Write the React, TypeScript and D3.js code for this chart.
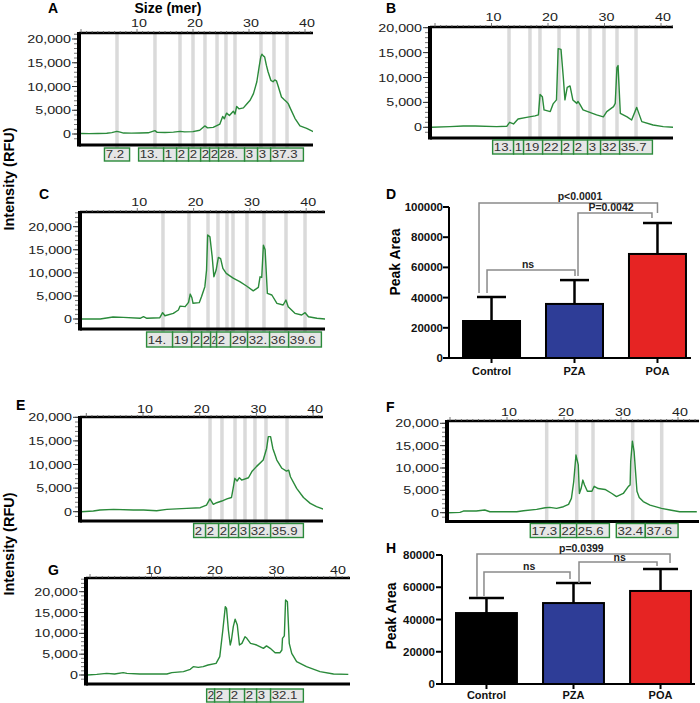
import React from 'react';
import * as d3 from 'd3';

// ---------------- data ----------------
const sizeTicks = [10, 20, 30, 40];
const rfuTicks = [0, 5000, 10000, 15000, 20000];
const rfuTickLabels = ['0', '5,000', '10,000', '15,000', '20,000'];

type Pt = [number, number];

// trace A (size in mer, intensity in RFU)
const traceA: Pt[] = [[0,100],[1.5,80],[3,120],[4.6,150],[5.5,300],[6.4,550],[7.0,400],[7.6,200],[9,180],[10.5,220],[12,250],[13.2,700],[13.6,350],[15,330],[16.5,400],[17.7,550],[18.5,450],[20,500],[21.2,800],[22.1,1700],[22.6,1300],[23.6,1400],[24.8,2100],[25.3,3700],[25.6,3200],[26.0,4400],[26.5,3900],[27.2,4800],[27.5,4200],[27.8,5800],[28.2,5300],[29.0,5500],[29.6,6300],[30.2,7100],[30.8,8500],[31.4,11000],[31.8,14100],[32.1,16200],[32.3,16800],[32.6,16400],[32.8,16200],[33.1,14500],[33.4,13100],[33.9,11300],[34.3,11000],[34.6,11400],[34.9,11200],[35.2,10100],[35.8,7800],[36.3,7200],[36.7,6800],[37.0,6400],[37.3,5600],[38.2,3300],[39.1,1700],[40.3,1200],[41.5,500]];
const traceB: Pt[] = [[-0.6,0],[2.65,130],[5.0,270],[7.1,270],[10.9,130],[12.7,200],[13.2,1000],[13.9,670],[14.7,1670],[16.2,2000],[17.7,2300],[18.3,2500],[18.6,6600],[19.0,6150],[19.3,3500],[20.4,3150],[20.9,4700],[21.5,5500],[21.8,15800],[22.3,15650],[22.7,10150],[23.0,5500],[23.4,8000],[23.9,8300],[24.4,5500],[25.1,4800],[25.3,5200],[25.6,4700],[26.2,3500],[28.6,2500],[29.8,2100],[30.4,3150],[31.6,4150],[31.9,4800],[32.2,12000],[32.4,12400],[32.8,2800],[34.0,2100],[34.8,1470],[35.7,4000],[36.6,1140],[38.6,470],[40.4,130],[42.2,0]];
const traceC: Pt[] = [[0,0],[3.4,0],[5.7,430],[7.5,350],[10.5,150],[11.1,500],[11.7,150],[14.0,280],[14.5,1370],[14.9,700],[16.4,1230],[17.3,1950],[17.6,2800],[18.5,2670],[19.1,3600],[19.4,5400],[19.7,4600],[19.9,3400],[21.0,3540],[21.4,4840],[22.0,7000],[22.3,10600],[22.5,18200],[22.9,17800],[23.3,13500],[23.6,9150],[24.0,10600],[24.4,13350],[24.8,13100],[25.2,10970],[25.8,9900],[26.5,9300],[27.1,8800],[28.2,8100],[29.4,7150],[30.6,6100],[31.5,6860],[31.8,9150],[32.1,9000],[32.4,16000],[32.7,15000],[33.1,5560],[33.9,5200],[34.8,3400],[35.9,3030],[36.4,4100],[36.8,2670],[38.0,1230],[39.2,870],[39.8,1370],[40.4,500],[41.9,150],[43.4,0]];
const traceE: Pt[] = [[-0.9,0],[1.24,140],[2.4,350],[4.8,500],[8.3,350],[10.1,350],[12.4,200],[14.2,500],[17.7,700],[20.1,850],[21.2,1400],[21.8,2700],[22.4,1550],[23.0,1900],[23.9,2260],[24.8,2700],[25.6,3000],[25.9,4950],[26.2,7070],[26.6,6500],[27.0,7200],[27.4,6700],[28.6,7200],[29.2,8500],[30.0,9550],[31.2,10950],[31.8,13400],[32.1,15900],[32.5,15900],[32.9,13400],[33.3,12000],[33.6,10950],[34.5,9200],[35.3,8600],[35.7,8800],[36.0,7400],[37.1,4950],[38.3,3000],[39.5,1770],[40.6,1060],[41.8,570]];
const traceF: Pt[] = [[-0.3,0],[1.75,70],[2.35,370],[4.6,370],[6.1,600],[7.0,220],[11.7,220],[12.9,450],[15.2,750],[16.7,1100],[17.5,1200],[18.7,970],[19.9,1340],[20.8,1870],[21.3,3200],[21.7,6900],[22.1,12900],[22.5,10700],[22.7,4300],[23.0,5400],[23.3,7300],[23.6,6200],[24.1,4800],[24.9,4800],[25.3,5900],[26.0,5400],[27.2,5200],[28.4,4300],[29.2,3600],[30.4,4300],[31.3,5900],[31.6,6200],[31.7,11400],[32.0,16000],[32.3,13600],[32.8,4800],[33.2,3400],[33.9,2500],[35.1,1700],[37.1,970],[38.6,600],[40.3,220],[43.3,220]];
const traceG: Pt[] = [[-0.43,0],[1.1,160],[2.7,400],[4.0,240],[5.4,560],[6.0,400],[8.1,240],[12.5,240],[13.3,560],[15.2,800],[16.3,1360],[16.8,2000],[17.6,1840],[18.4,2000],[19.2,2400],[20.5,2800],[21.1,4400],[21.6,10800],[22.0,16400],[22.2,16000],[22.5,10800],[22.8,7200],[23.0,8400],[23.3,11600],[23.6,13400],[23.95,12000],[24.3,7200],[24.7,7600],[25.2,9200],[25.5,8800],[26.1,7600],[27.1,7200],[28.2,6400],[28.7,7000],[29.3,6400],[30.1,5360],[30.9,5360],[31.2,6000],[31.3,8800],[31.6,9400],[31.8,18000],[32.1,17600],[32.4,7600],[32.8,5200],[33.6,3200],[35.2,2000],[37.4,800],[39.6,240],[42.0,160]];

// called peaks (marker size in mer) and their labels
const markersA = [6.43, 13.21, 17.68, 20.0, 22.14, 24.29, 25.89, 27.5, 32.14, 34.46, 36.79];
const labelsA = ['7.2', '13.1', '18.2', '20.4', '22.3', '24.6', '26.3', '28.0', '32.5', '34.7', '37.3'];
const markersB = [13.1, 16.81, 18.58, 21.95, 25.31, 27.43, 29.91, 32.21, 35.58];
const labelsB = ['13.1', '16.8', '19.0', '22.2', '25.3', '27.4', '30.0', '32.3', '35.7'];
const markersC = [14.56, 19.18, 22.56, 24.33, 25.93, 27.0, 29.48, 32.5, 36.41, 39.79];
const labelsC = ['14.6', '19.3', '22.4', '24.2', '25.7', '26.9', '29.4', '32.4', '36.3', '39.6'];
const markersE = [21.82, 23.93, 26.23, 27.99, 29.75, 31.69, 35.4];
const labelsE = ['22.0', '24.1', '26.3', '28.1', '30.0', '32.2', '35.9'];
const markersF = [16.96, 22.23, 25.09, 32.05, 37.14];
const labelsF = ['17.3', '22.4', '25.6', '32.4', '37.6'];
const markersG = [21.63, 22.93, 25.37, 27.8, 29.76, 32.03];
const labelsG = ['22.0', '23.3', '25.6', '27.9', '30.1', '32.1'];

// bar charts
const groups = ['Control', 'PZA', 'POA'];
const meanD = [24500, 35800, 68900];
const sdD = [15900, 15800, 20500];
const ticksD = [0, 20000, 40000, 60000, 80000, 100000];
const meanH = [44000, 50200, 57700];
const sdH = [9300, 12400, 13600];
const ticksH = [0, 20000, 40000, 60000, 80000];

// significance brackets: group a -> group b, leg ends / top in data units
const bracketsD = [
  { a: 0, b: 2, yA: 43000, yTop: 102600, yB: 96000, dxA: -12.5, dxB: 0, text: 'p<0.0001', t: 1.066, ty: 104600 },
  { a: 1, b: 2, yA: 54300, yTop: 96000, yB: 92700, dxA: 3.5, dxB: -5.5, text: 'P=0.0042', t: 1.44, ty: 97300 },
  { a: 0, b: 1, yA: 43000, yTop: 58300, yB: 54300, dxA: -4.5, dxB: 0.5, text: 'ns', t: 0.44, ty: 59600 },
];
const bracketsH = [
  { a: 0, b: 2, yA: 54000, yTop: 80600, yB: 75000, dxA: -9.5, dxB: 9.5, text: 'p=0.0399', t: 1.09, ty: 81900 },
  { a: 0, b: 1, yA: 54600, yTop: 69500, yB: 65100, dxA: -2.5, dxB: -3.5, text: 'ns', t: 0.49, ty: 70400 },
  { a: 1, b: 2, yA: 62600, yTop: 75700, yB: 73200, dxA: 5.5, dxB: -3.5, text: 'ns', t: 1.53, ty: 76500 },
];

// ---------------- style ----------------
const FONT = "'Liberation Sans', Arial, Helvetica, sans-serif";
const GREEN = '#2a8a3a';
const BOXFILL = '#e6e6e6';
const MARK = '#dadada';
const SX = 1.3;
const BOX_SX = 1.2;

type Layout = {
  left: number; right: number; top: number; bottom: number;
  x0: number; x40: number; y0: number; y20: number;
  tickY: number; boxTop: number; boxH: number;
};

const layA: Layout = { left: 79, right: 313, top: 33, bottom: 145, x0: 81, x40: 305, y0: 134, y20: 39, tickY: 27, boxTop: 148, boxH: 13 };
const layB: Layout = { left: 430, right: 673, top: 27, bottom: 138, x0: 435, x40: 661, y0: 127.3, y20: 27.7, tickY: 21, boxTop: 140, boxH: 14 };
const layC: Layout = { left: 80, right: 325, top: 212, bottom: 329, x0: 81, x40: 306.2, y0: 319, y20: 226.7, tickY: 206, boxTop: 332, boxH: 15 };
const layE: Layout = { left: 80, right: 323, top: 417, bottom: 521, x0: 86.3, x40: 313.1, y0: 511.7, y20: 417.3, tickY: 413, boxTop: 523.5, boxH: 14 };
const layF: Layout = { left: 447, right: 699, top: 421, bottom: 521.5, x0: 450, x40: 678, y0: 512.7, y20: 423.3, tickY: 416, boxTop: 523.5, boxH: 14 };
const layG: Layout = { left: 86, right: 350, top: 578, bottom: 684, x0: 90, x40: 336, y0: 675, y20: 591.7, tickY: 574, boxTop: 689, boxH: 13 };

function textW(s: string, sx: number) {
  let w = 0;
  for (const c of s) w += c === '.' ? 3.06 : 6.12;
  return w * sx;
}

// longest prefix that fits; if nothing fits, a squeezed first glyph
function fitText(s: string, avail: number, sx: number): { t: string; sx: number } {
  let out = '';
  for (const c of s) {
    if (textW(out + c, sx) <= avail) out += c; else break;
  }
  if (out) return { t: out, sx };
  return { t: s[0], sx: Math.max(0.2, avail / 6.12) };
}

function WText(props: { x: number; y: number; anchor?: string; size?: number; sx?: number; fill?: string; children: React.ReactNode }) {
  const { x, y, anchor = 'start', size = 11, sx = SX, fill = '#222', children } = props;
  return (
    <text transform={`translate(${x},${y}) scale(${sx},1)`} textAnchor={anchor} fontSize={size} fontFamily={FONT} fill={fill}>
      {children}
    </text>
  );
}

function Electro(props: { id: string; lay: Layout; data: Pt[]; markers: number[]; labels: string[]; showMarkers: boolean }) {
  const { id, lay, data, markers, labels, showMarkers } = props;
  const x = d3.scaleLinear().domain([0, 40]).range([lay.x0, lay.x40]);
  const y = d3.scaleLinear().domain([0, 20000]).range([lay.y0, lay.y20]);
  const line = d3.line<Pt>().x(d => x(d[0])).y(d => y(d[1]));

  const minorX: number[] = d3.range(Math.ceil(x.invert(lay.left + 2)), Math.floor(x.invert(lay.right)) + 1, 1);
  const minorY: number[] = d3.range(Math.ceil(y.invert(lay.bottom - 2) / 1000) * 1000, y.invert(lay.top) + 1, 1000);

  const boxes = markers.map((m, i) => {
    const c = x(m);
    const w = textW(labels[i], 1.25) + 6;
    return { c, left: c - w / 2, right: c + w / 2 };
  });
  for (let i = 0; i < boxes.length - 1; i++) {
    boxes[i].right = Math.max(boxes[i].left, Math.min(boxes[i].right, boxes[i + 1].left));
  }

  return (
    <g>
      <defs>
        <clipPath id={`plot-${id}`}>
          <rect x={lay.left} y={lay.top} width={lay.right - lay.left} height={lay.bottom - lay.top} />
        </clipPath>
        {boxes.map((b, i) => (
          <clipPath id={`box-${id}-${i}`} key={i}>
            <rect x={b.left + 0.7} y={lay.boxTop} width={Math.max(0, b.right - b.left - 1.4)} height={lay.boxH} />
          </clipPath>
        ))}
      </defs>
      {/* peak marker lines */}
      {showMarkers && markers.map((m, i) => (
        <line key={i} x1={x(m)} x2={x(m)} y1={lay.top + 1} y2={lay.boxTop} stroke={MARK} strokeWidth={3.5} />
      ))}
      {/* trace */}
      <path d={line(data) || ''} fill="none" stroke={GREEN} strokeWidth={1.4} clipPath={`url(#plot-${id})`} strokeLinejoin="round" />
      {/* top axis */}
      <line x1={lay.left} x2={lay.right} y1={lay.top} y2={lay.top} stroke="#000" strokeWidth={2.5} />
      {minorX.map(v => (
        <line key={v} x1={x(v)} x2={x(v)} y1={lay.top - (v % 10 === 0 ? 4 : 2)} y2={lay.top} stroke="#555" strokeWidth={0.8} />
      ))}
      {sizeTicks.map(v => (
        <WText key={v} x={x(v) + 2} y={lay.tickY} anchor="middle">{v}</WText>
      ))}
      {/* left axis */}
      {minorY.map(v => (
        <line key={v} x1={lay.left - 5} x2={lay.left} y1={y(v)} y2={y(v)} stroke="#555" strokeWidth={0.8} />
      ))}
      {rfuTicks.map((v, i) => (
        <g key={v}>
          <line x1={lay.left - 7} x2={lay.left} y1={y(v)} y2={y(v)} stroke="#333" strokeWidth={1} />
          <WText x={lay.left - 8} y={y(v) + 4} anchor="end">{rfuTickLabels[i]}</WText>
        </g>
      ))}
      <line x1={lay.left} x2={lay.left} y1={lay.top - 1} y2={lay.bottom + 1.5} stroke="#000" strokeWidth={4} />
      {/* bottom axis */}
      <line x1={lay.left} x2={lay.right} y1={lay.bottom} y2={lay.bottom} stroke="#000" strokeWidth={3} />
      {/* peak label boxes */}
      {boxes.map((b, i) => {
        const w = Math.max(0, b.right - b.left);
        const f = fitText(labels[i], w - 1.5, BOX_SX);
        return (
          <g key={i}>
            <rect x={b.left} y={lay.boxTop} width={w} height={lay.boxH} fill={BOXFILL} stroke={GREEN} strokeWidth={1.4} />
            <g clipPath={`url(#box-${id}-${i})`}>
              <WText x={b.left + 1.2} y={lay.boxTop + lay.boxH - 3} sx={f.sx} fill="#333">{f.t}</WText>
            </g>
          </g>
        );
      })}
    </g>
  );
}

type Bracket = { a: number; b: number; yA: number; yTop: number; yB: number; dxA: number; dxB: number; text: string; t: number; ty: number };

function BarPanel(props: {
  axisX: number; axisRight: number; y0: number; yTop: number; bandRange: [number, number];
  pi: number; po: number; means: number[]; sds: number[]; ticks: number[]; brackets: Bracket[];
  capW: number; catY: number; labelRight: number;
}) {
  const p = props;
  const x = d3.scaleBand<string>().domain(groups).range(p.bandRange).paddingInner(p.pi).paddingOuter(p.po);
  const y = d3.scaleLinear().domain([0, p.ticks[p.ticks.length - 1]]).range([p.y0, p.yTop]);
  const colors = ['#000000', '#2e3d97', '#e62423'];
  const cx = (i: number) => (x(groups[i]) as number) + x.bandwidth() / 2;
  const cxT = (t: number) => cx(0) + t * (cx(1) - cx(0));
  return (
    <g fontFamily={FONT}>
      {p.means.map((m, i) => (
        <g key={i}>
          <line x1={cx(i)} x2={cx(i)} y1={y(m)} y2={y(m + p.sds[i])} stroke="#000" strokeWidth={2.5} />
          <line x1={cx(i) - p.capW / 2} x2={cx(i) + p.capW / 2} y1={y(m + p.sds[i])} y2={y(m + p.sds[i])} stroke="#000" strokeWidth={2.5} />
          <rect x={x(groups[i]) as number} y={y(m)} width={x.bandwidth()} height={y(0) - y(m)} fill={colors[i]} stroke="#000" strokeWidth={2} />
        </g>
      ))}
      {/* y axis */}
      <line x1={p.axisX} x2={p.axisX} y1={y(p.ticks[p.ticks.length - 1])} y2={y(0)} stroke="#000" strokeWidth={2} />
      {p.ticks.map(v => (
        <g key={v}>
          <line x1={p.axisX - 6} x2={p.axisX} y1={y(v)} y2={y(v)} stroke="#000" strokeWidth={2} />
          <text x={p.labelRight} y={y(v) + 4} textAnchor="end" fontSize={11.5} fontWeight="bold" fill="#111">{v}</text>
        </g>
      ))}
      {/* x axis */}
      <line x1={p.axisX} x2={p.axisRight} y1={y(0)} y2={y(0)} stroke="#000" strokeWidth={2} />
      {groups.map((g, i) => (
        <g key={g}>
          <line x1={cx(i)} x2={cx(i)} y1={y(0)} y2={y(0) + 5} stroke="#000" strokeWidth={2} />
          <text x={cx(i)} y={p.catY} textAnchor="middle" fontSize={11} fontWeight="bold" fill="#111">{g}</text>
        </g>
      ))}
      {/* brackets */}
      {p.brackets.map((b, i) => {
        const xa = cx(b.a) + b.dxA;
        const xb = cx(b.b) + b.dxB;
        return (
          <g key={i}>
            <path d={`M${xa},${y(b.yA)}V${y(b.yTop)}H${xb}V${y(b.yB)}`} fill="none" stroke="#8a8a8a" strokeWidth={1.5} />
            <text x={cxT(b.t)} y={y(b.ty)} textAnchor="middle" fontSize={10.5} fontWeight="bold" fill="#222">{b.text}</text>
          </g>
        );
      })}
    </g>
  );
}

function Letter(props: { x: number; y: number; t: string }) {
  return <text x={props.x} y={props.y} fontSize={14} fontWeight="bold" fontFamily={FONT} fill="#000">{props.t}</text>;
}

export default function App() {
  return (
    <svg width={700} height={703} viewBox="0 0 700 703" style={{ position: 'absolute', left: 0, top: 0, background: '#fff' }}>
      <rect x={0} y={0} width={700} height={703} fill="#fff" />
      <text x={168} y={13} textAnchor="middle" fontSize={14} fontWeight="bold" fontFamily={FONT}>Size (mer)</text>
      <text transform="translate(13.5,179) rotate(-90)" textAnchor="middle" fontSize={14.5} fontWeight="bold" fontFamily={FONT}>Intensity (RFU)</text>
      <text transform="translate(13.5,544) rotate(-90)" textAnchor="middle" fontSize={14.5} fontWeight="bold" fontFamily={FONT}>Intensity (RFU)</text>

      <Letter x={48} y={13} t="A" />
      <Letter x={386} y={13} t="B" />
      <Letter x={39} y={199} t="C" />
      <Letter x={386} y={199} t="D" />
      <Letter x={16} y={410} t="E" />
      <Letter x={386} y={412} t="F" />
      <Letter x={48} y={575} t="G" />
      <Letter x={386} y={553} t="H" />

      <Electro id="A" lay={layA} data={traceA} markers={markersA} labels={labelsA} showMarkers={true} />
      <Electro id="B" lay={layB} data={traceB} markers={markersB} labels={labelsB} showMarkers={true} />
      <Electro id="C" lay={layC} data={traceC} markers={markersC} labels={labelsC} showMarkers={true} />
      <Electro id="E" lay={layE} data={traceE} markers={markersE} labels={labelsE} showMarkers={true} />
      <Electro id="F" lay={layF} data={traceF} markers={markersF} labels={labelsF} showMarkers={true} />
      <Electro id="G" lay={layG} data={traceG} markers={markersG} labels={labelsG} showMarkers={false} />

      <text transform="translate(400,262) rotate(-90)" textAnchor="middle" fontSize={14} fontWeight="bold" fontFamily={FONT}>Peak Area</text>
      <BarPanel axisX={449} axisRight={691} y0={358} yTop={207} bandRange={[449, 700]} pi={0.313} po={0.169}
        means={meanD} sds={sdD} ticks={ticksD} brackets={bracketsD} capW={29} catY={375} labelRight={443} />

      <text transform="translate(396,616) rotate(-90)" textAnchor="middle" fontSize={14} fontWeight="bold" fontFamily={FONT}>Peak Area</text>
      <BarPanel axisX={442} axisRight={695} y0={684} yTop={555} bandRange={[442, 705]} pi={0.30} po={0.161}
        means={meanH} sds={sdH} ticks={ticksH} brackets={bracketsH} capW={35} catY={699} labelRight={435} />
    </svg>
  );
}
